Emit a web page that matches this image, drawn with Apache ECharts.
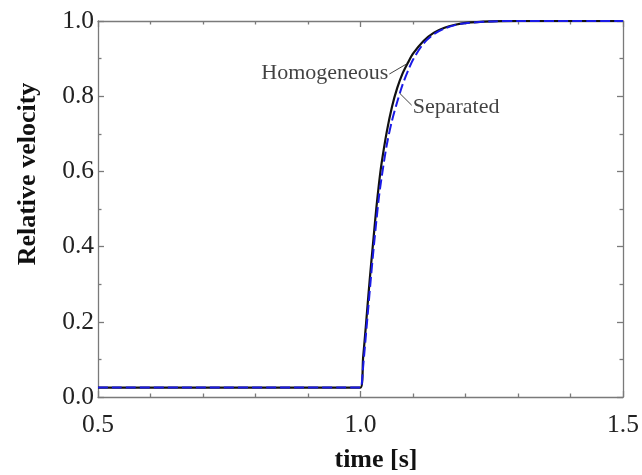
<!DOCTYPE html>
<html><head><meta charset="utf-8">
<script src="https://cdn.jsdelivr.net/npm/echarts@6/dist/echarts.min.js"></script>
<style>html,body{margin:0;padding:0;background:#fff}#c{width:642px;height:475px}</style>
</head><body><div id="c"></div>
<script>
// Data
const timeH = [0.5, 1.0, 1.005, 1.01, 1.015, 1.02, 1.025, 1.03, 1.035, 1.04, 1.05, 1.06, 1.07, 1.08, 1.09, 1.10, 1.12, 1.14, 1.16, 1.18, 1.20, 1.25, 1.30, 1.5];
const homogeneous = [0.025, 0.025, 0.105, 0.185, 0.27, 0.35, 0.425, 0.50, 0.565, 0.62, 0.705, 0.772, 0.822, 0.86, 0.888, 0.913, 0.947, 0.969, 0.982, 0.99, 0.995, 0.999, 1.0, 1.0];
const timeS = [0.5, 1.0, 1.002, 1.005, 1.01, 1.015, 1.02, 1.025, 1.03, 1.035, 1.04, 1.05, 1.06, 1.07, 1.08, 1.09, 1.10, 1.12, 1.14, 1.16, 1.18, 1.20, 1.25, 1.30, 1.5];
const separated = [0.025, 0.025, 0.03, 0.08, 0.16, 0.24, 0.32, 0.395, 0.465, 0.53, 0.582, 0.67, 0.735, 0.785, 0.83, 0.866, 0.897, 0.94, 0.965, 0.98, 0.989, 0.994, 0.999, 1.0, 1.0];
// annotation leaders (data coordinates): [text point, curve point]
const leaderH = [[1.055, 0.859], [1.088, 0.886]];
const leaderS = [[1.0975, 0.776], [1.0752, 0.807]];
const labelH = 'Homogeneous';
const labelS = 'Separated';
const xRange = [0.5, 1.5];
const yRange = [0.0, 1.0];

const zip = (a, b) => a.map((v, i) => [v, b[i]]);
const serif = '"Liberation Serif", "Times New Roman", serif';
const axisLineStyle = { color: '#7a7a7a', width: 1.3 };

function mkAxis(base, show, margin) {
  return Object.assign({
    axisLine: { show: true, lineStyle: axisLineStyle, onZero: false },
    axisTick: { show: true, inside: true, length: 6, lineStyle: axisLineStyle },
    splitLine: { show: false },
    axisLabel: show ? { show: true, fontFamily: serif, fontSize: 25.5, color: '#222', margin: margin,
      formatter: v => v.toFixed(1) } : { show: false }
  }, base);
}
const minorX = { show: true, splitNumber: 5, length: 3.5, lineStyle: axisLineStyle };
const minorY = { show: true, splitNumber: 2, length: 3.5, lineStyle: axisLineStyle };

const chart = echarts.init(document.getElementById('c'), null, { renderer: 'canvas' });
chart.setOption({
  animation: false,
  backgroundColor: '#fff',
  grid: { left: 98, right: 19, top: 21, bottom: 78 },
  xAxis: [
    mkAxis({ type: 'value', min: xRange[0], max: xRange[1], interval: 0.5, minorTick: minorX, position: 'bottom' }, true, 15),
    mkAxis({ type: 'value', min: xRange[0], max: xRange[1], interval: 0.5, minorTick: minorX, position: 'top' }, false, 0)
  ],
  yAxis: [
    mkAxis({ type: 'value', min: yRange[0], max: yRange[1], interval: 0.2, minorTick: minorY, position: 'left' }, true, 4),
    mkAxis({ type: 'value', min: yRange[0], max: yRange[1], interval: 0.2, minorTick: minorY, position: 'right' }, false, 0)
  ],
  series: [
    { type: 'line', data: zip(timeH, homogeneous), symbol: 'none', smooth: 0.3,
      lineStyle: { color: '#111', width: 2.2 }, z: 3 },
    { type: 'line', data: zip(timeS, separated), symbol: 'none', smooth: 0.3,
      lineStyle: { color: '#1a1ae6', width: 2, type: [10, 4] }, z: 4 },
    { type: 'line', data: leaderH, symbol: 'none', lineStyle: { color: '#444', width: 1 }, z: 5 },
    { type: 'line', data: leaderS, symbol: 'none', lineStyle: { color: '#444', width: 1 }, z: 5 },
    { type: 'scatter', symbolSize: 0, z: 6,
      data: [{ value: leaderH[0], label: { show: true, position: 'left', distance: 1, offset: [0, -1], formatter: labelH } },
             { value: leaderS[0], label: { show: true, position: 'right', distance: 1, offset: [0, 2], formatter: labelS } }],
      label: { fontFamily: serif, fontSize: 22, color: '#111' } }
  ],
  graphic: [
    { type: 'text', x: 376, y: 460, style: { text: 'time [s]', font: 'bold 26px ' + serif, fill: '#111', textAlign: 'center', textVerticalAlign: 'middle' } },
    { type: 'text', x: 28, y: 174, rotation: Math.PI / 2, style: { text: 'Relative velocity', font: 'bold 26px ' + serif, fill: '#111', textAlign: 'center', textVerticalAlign: 'middle' } }
  ]
});
</script></body></html>
